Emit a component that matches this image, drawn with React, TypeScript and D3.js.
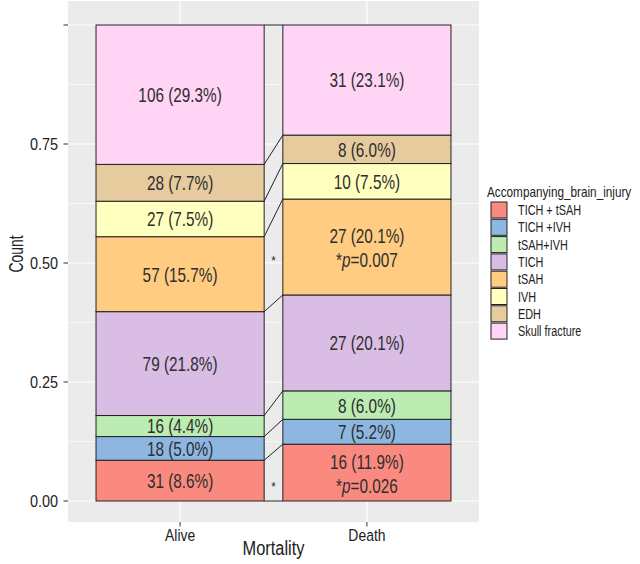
import React from 'react';
import * as d3 from 'd3';

// mortality groups on x, injury types stacked inside each bar
const mortality = ['Alive', 'Death'];
const injuries = ['TICH + tSAH', 'TICH +IVH', 'tSAH+IVH', 'TICH', 'tSAH', 'IVH', 'EDH', 'Skull fracture'];
const aliveCounts = [31, 18, 16, 79, 57, 27, 28, 106];
const deathCounts = [16, 7, 8, 27, 27, 10, 8, 31];
// p values shown for the Death group only (null = not significant)
const deathPValues: (string | null)[] = ['0.026', null, null, null, '0.007', null, null, null];
const fillColors = ['#FA8A80', '#8DB7E1', '#BCECB1', '#D9BDE4', '#FFCC82', '#FFFFBF', '#E5CB9E', '#FFD4F5'];
const yTicks = [0, 0.25, 0.5, 0.75, 1];
const yTickLabels = ['0.00', '0.25', '0.50', '0.75', ''];
const yMinor = [0.125, 0.375, 0.625, 0.875];

const FONT = "'Liberation Sans', Arial, sans-serif";
const INK = '#222222';

type TProps = {
  x: number; y: number; size: number; sx?: number; rot?: number; fill?: string;
  anchor?: 'start' | 'middle' | 'end'; central?: boolean; children: React.ReactNode;
};

// condensed text: the reference uses a narrow face, so squeeze Liberation Sans horizontally
function T({ x, y, size, sx = 0.8, rot = 0, fill = INK, anchor = 'start', central = false, children }: TProps) {
  return (
    <text transform={`translate(${x},${y})${rot ? ` rotate(${rot})` : ''} scale(${sx},1)`}
      textAnchor={anchor} dominantBaseline={central ? 'central' : undefined}
      fontSize={size} fill={fill} fontFamily={FONT}>{children}</text>
  );
}

export default function App() {
  const width = 640;
  const height = 564;
  const panel = { left: 68, right: 479, top: 1, bottom: 522 };

  const x = d3.scaleBand<string>().domain(mortality).range([panel.left, panel.right])
    .paddingInner(0.1).paddingOuter(0.15);
  const y = d3.scaleLinear().domain([0, 1]).range([501, 25]);

  const counts: Record<string, number[]> = { Alive: aliveCounts, Death: deathCounts };
  const rows = mortality.map((m) => {
    const total = d3.sum(counts[m]);
    const row: Record<string, number | string> = { group: m };
    injuries.forEach((k, i) => { row[k] = counts[m][i] / total; });
    return row;
  });
  const series = d3.stack<Record<string, number | string>>().keys(injuries)(rows as any);

  const bw = x.bandwidth();
  const xA = x('Alive')!;
  const xD = x('Death')!;
  const gapMid = (xA + bw + xD) / 2;

  // boundaries for the connecting lines (0 plus each cumulative top)
  const boundsA = [0, ...series.map((s) => s[0][1])];
  const boundsD = [0, ...series.map((s) => s[1][1])];
  const LBL = '#2e2e2e';

  return (
    <svg width={width} height={height} style={{ position: 'absolute', left: 0, top: 0, background: '#fff' }}
      fontFamily={FONT}>
      {/* panel */}
      <rect x={panel.left} y={panel.top} width={panel.right - panel.left} height={panel.bottom - panel.top} fill="#EBEBEB" />
      {yMinor.map((t) => (
        <line key={'mn' + t} x1={panel.left} x2={panel.right} y1={y(t)} y2={y(t)} stroke="#fff" strokeWidth={0.6} />
      ))}
      {yTicks.map((t) => (
        <line key={'mj' + t} x1={panel.left} x2={panel.right} y1={y(t)} y2={y(t)} stroke="#fff" strokeWidth={1.2} />
      ))}
      {mortality.map((m) => (
        <line key={'vx' + m} x1={x(m)! + bw / 2} x2={x(m)! + bw / 2} y1={panel.top} y2={panel.bottom} stroke="#fff" strokeWidth={1.2} />
      ))}

      {/* connecting lines between bars */}
      {boundsA.map((b, i) => (
        <line key={'cn' + i} x1={xA + bw} y1={y(b)} x2={xD} y2={y(boundsD[i])} stroke={INK} strokeWidth={1} />
      ))}

      {/* stacked bars */}
      {series.map((s, i) => (
        <g key={'s' + i} fill={fillColors[i]}>
          {s.map((d, j) => (
            <rect key={j} x={x(mortality[j])} y={y(d[1])} width={bw} height={y(d[0]) - y(d[1])}
              stroke={INK} strokeWidth={1} />
          ))}
        </g>
      ))}

      {/* segment labels */}
      {series.map((s, i) => s.map((d, j) => {
        const m = mortality[j];
        const n = counts[m][i];
        const pct = ((d[1] - d[0]) * 100).toFixed(1);
        const cx = x(m)! + bw / 2;
        const mid = y((d[0] + d[1]) / 2);
        const p = m === 'Death' ? deathPValues[i] : null;
        if (!p) {
          return <T key={`l${i}-${j}`} x={cx} y={mid} size={21} sx={0.73} fill={LBL} anchor="middle" central>{`${n} (${pct}%)`}</T>;
        }
        return (
          <g key={`l${i}-${j}`}>
            <T x={cx} y={mid - 11} size={21} sx={0.73} fill={LBL} anchor="middle" central>{`${n} (${pct}%)`}</T>
            <T x={cx} y={mid + 12} size={21} sx={0.73} fill={LBL} anchor="middle" central>
              <tspan>*</tspan><tspan fontStyle="italic">p</tspan><tspan>={p}</tspan>
            </T>
            <T x={gapMid} y={mid + 18} size={13} sx={0.9} anchor="middle">*</T>
          </g>
        );
      }))}

      {/* y axis */}
      {yTicks.map((t, i) => (
        <g key={'yt' + t}>
          <line x1={panel.left - 4.5} x2={panel.left} y1={y(t)} y2={y(t)} stroke="#333" strokeWidth={1} />
          <T x={panel.left - 10} y={y(t)} size={17} sx={0.85} anchor="end" central>{yTickLabels[i]}</T>
        </g>
      ))}
      <T x={23} y={254} size={21} sx={0.66} rot={-90} anchor="middle">Count</T>

      {/* x axis */}
      {mortality.map((m) => (
        <g key={'xt' + m}>
          <line x1={x(m)! + bw / 2} x2={x(m)! + bw / 2} y1={panel.bottom} y2={panel.bottom + 4.5} stroke="#333" strokeWidth={1} />
          <T x={x(m)! + bw / 2} y={541} size={17} sx={0.82} anchor="middle">{m}</T>
        </g>
      ))}
      <T x={(panel.left + panel.right) / 2} y={555} size={21} sx={0.78} anchor="middle">Mortality</T>

      {/* legend */}
      <T x={487} y={197} size={14} sx={0.84}>Accompanying_brain_injury</T>
      {injuries.map((k, i) => (
        <g key={'lg' + k} transform={`translate(491,${202 + i * 17.3})`}>
          <rect x={0} y={0} width={16} height={16} fill={fillColors[i]} stroke={INK} strokeWidth={1} />
          <T x={27} y={8} size={14.5} sx={0.75} central>{k}</T>
        </g>
      ))}
    </svg>
  );
}
